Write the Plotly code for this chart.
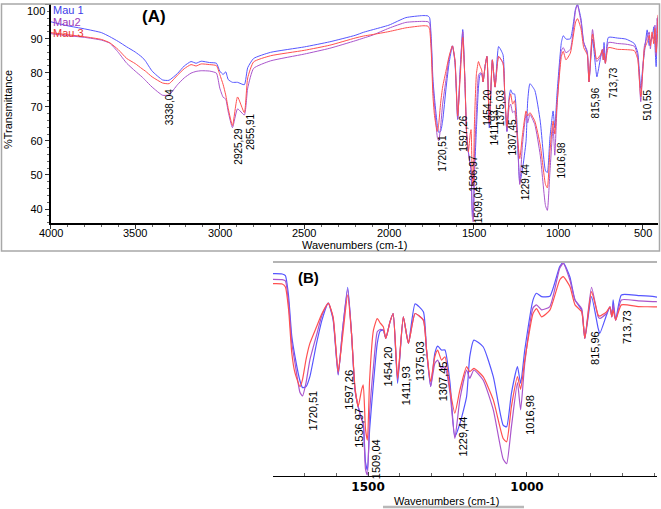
import plotly.graph_objects as go

W, H = 661, 509

# ---------------- data ----------------
wavenumber = [4000, 3900, 3800, 3700, 3650, 3600, 3550, 3500, 3460, 3440, 3400, 3338, 3300, 3250,
              3210, 3170, 3140, 3110, 3060, 3020, 3000, 2980, 2965, 2950, 2925, 2895, 2855, 2835,
              2800, 2700, 2500, 2350, 2200, 2150, 2100, 2000, 1900, 1800, 1770, 1760, 1750, 1740,
              1730, 1714, 1706, 1695, 1683, 1662, 1645, 1625, 1610, 1594, 1580, 1564, 1552, 1541,
              1531, 1520, 1515, 1508, 1502, 1495, 1483, 1471, 1462, 1452, 1444, 1431, 1421, 1407,
              1389, 1373, 1352, 1326, 1316, 1303, 1290, 1281, 1269, 1258, 1242, 1227, 1211, 1190,
              1180, 1167, 1138, 1106, 1075, 1064, 1049, 1030, 1020, 1007, 981, 970, 954, 928,
              897, 886, 865, 849, 828, 818, 797, 776, 771, 750, 739, 733, 729, 721,
              703, 650, 600, 550, 530, 512, 500, 490, 474, 462, 455, 445, 435, 428,
              421, 415, 410]

mau1 = [95.0, 93.8, 92.9, 91.8, 90.6, 89.2, 87.6, 86.1, 84.6, 83.5, 80.5, 77.9, 77.8, 79.8,
        82.0, 83.3, 82.8, 83.4, 83.0, 82.8, 80.5, 79.5, 80.3, 78.0, 77.2, 77.2, 76.5, 81.5,
        84.2, 86.0, 87.6, 89.1, 91.0, 91.9, 92.6, 94.0, 96.2, 96.8, 96.7, 96.2, 90.0, 78.0,
        72.0, 64.5, 62.5, 62.8, 65.8, 75.8, 82.8, 87.9, 83.0, 66.3, 80.0, 92.7, 78.8, 61.8,
        56.8, 53.0, 51.7, 40.0, 37.7, 50.0, 63.8, 75.8, 79.5, 79.8, 77.3, 82.3, 84.8, 63.8,
        83.8, 75.8, 87.7, 85.3, 73.8, 62.8, 72.8, 75.0, 73.8, 73.8, 63.8, 47.7, 51.7, 59.8,
        71.8, 76.8, 74.8, 65.8, 51.2, 50.7, 60.8, 68.8, 63.8, 73.8, 88.9, 90.9, 89.9, 90.0,
        98.9, 100.1, 95.8, 88.9, 85.8, 77.3, 89.9, 80.3, 78.8, 84.3, 86.8, 83.8, 88.9, 82.8,
        90.4, 90.2, 89.9, 88.6, 86.0, 75.4, 81.8, 86.0, 92.6, 88.0, 89.6, 90.0, 93.5, 88.0,
        81.8, 92.0, 96.5]

mau2 = [91.5, 90.9, 90.4, 89.6, 88.7, 86.0, 82.8, 80.5, 78.8, 77.8, 75.8, 73.4, 73.5, 76.5,
        78.5, 79.9, 80.4, 80.6, 80.5, 79.9, 75.5, 72.8, 72.3, 68.5, 63.9, 69.4, 67.6, 75.5,
        81.3, 83.5, 85.5, 87.2, 89.4, 90.2, 91.0, 93.1, 94.8, 95.1, 95.0, 94.6, 88.0, 76.0,
        70.0, 61.0, 60.0, 64.0, 70.8, 78.3, 84.3, 87.9, 83.5, 66.5, 80.0, 92.1, 78.8, 61.8,
        56.8, 53.0, 51.7, 38.0, 36.2, 55.0, 68.8, 79.3, 80.0, 79.8, 77.3, 82.3, 84.8, 64.8,
        83.8, 75.8, 84.8, 82.8, 73.8, 62.8, 69.8, 70.8, 68.3, 68.8, 60.8, 47.2, 59.0, 67.8,
        65.3, 67.8, 64.8, 55.8, 41.0, 39.6, 50.7, 64.0, 55.8, 69.8, 86.5, 87.4, 85.9, 86.9,
        98.4, 99.9, 94.9, 88.9, 86.3, 77.3, 92.7, 83.8, 83.3, 84.8, 86.8, 83.8, 87.4, 82.8,
        88.9, 88.6, 88.4, 87.8, 85.0, 71.5, 81.0, 88.0, 90.5, 92.0, 87.0, 91.0, 90.0, 94.0,
        85.0, 96.0, 93.0]

mau3 = [91.8, 91.2, 90.6, 89.8, 88.8, 86.8, 84.2, 82.7, 81.2, 80.5, 78.8, 77.0, 76.8, 79.3,
        81.2, 82.4, 82.0, 82.6, 82.4, 82.1, 79.5, 76.5, 73.5, 69.5, 64.5, 72.9, 68.3, 78.5,
        83.2, 85.0, 86.6, 88.1, 90.2, 90.8, 91.2, 92.1, 93.2, 93.8, 93.7, 92.8, 86.0, 73.0,
        67.0, 62.8, 65.0, 71.0, 75.8, 80.8, 84.8, 87.9, 83.8, 67.3, 78.0, 90.4, 78.8, 62.5,
        56.8, 62.0, 63.3, 50.0, 46.7, 65.0, 79.8, 83.3, 82.0, 80.8, 77.3, 82.3, 84.8, 65.3,
        83.8, 75.8, 84.8, 82.8, 73.8, 64.3, 71.8, 73.8, 70.8, 71.8, 61.8, 54.8, 61.8, 68.8,
        67.3, 68.3, 65.8, 58.8, 47.2, 46.2, 56.8, 65.8, 62.0, 70.8, 84.8, 86.3, 83.8, 85.8,
        94.9, 95.9, 92.9, 87.4, 85.3, 77.3, 91.4, 84.3, 84.0, 85.3, 86.8, 83.8, 85.8, 82.8,
        87.4, 86.9, 86.8, 86.5, 84.0, 73.0, 80.5, 87.0, 89.0, 91.0, 88.0, 92.0, 88.5, 93.0,
        86.0, 89.0, 97.0]

series_names = ["Mau 1", "Mau2", "Mau 3"]
series_values = [mau1, mau2, mau3]

peak_labels_A = ["3338,04", "2925,29", "2855,91", "1720,51", "1597,26", "1536,97", "1509,04",
                 "1454,20", "1411,93", "1375,03", "1307,45", "1229,44", "1016,98", "815,96",
                 "713,73", "510,55"]
peak_labels_B = ["1720,51", "1597,26", "1536,97", "1509,04", "1454,20", "1411,93", "1375,03",
                 "1307,45", "1229,44", "1016,98", "815,96", "713,73"]

x_ticks_A = [4000, 3500, 3000, 2500, 2000, 1500, 1000, 500]
y_ticks_A = [40, 50, 60, 70, 80, 90, 100]
x_ticks_B = [1500, 1000]

# ---------------- styles / layout ----------------
line_colors = ["#5656ff", "#aa55cc", "#ff5050"]
text_colors = ["#3c3ce8", "#9b37b8", "#e83232"]

# top (in data units) of each rotated peak label
label_top_A = [75.6, 64.3, 68.5, 62.2, 68.0, 56.3, 47.0, 75.7, 69.5, 75.4, 66.9, 53.8, 60.2,
               76.1, 81.8, 75.4]
label_top_B = [61.8, 68.3, 56.8, 47.2, 75.3, 69.3, 76.8, 70.8, 54.2, 60.6, 79.8, 86.3]
label_shift_B = [14.7, 12.2, 2.0, 11.5, 5.7, 9.6, 12.2, 14.0, 9.2, 8.3, 9.3, 8.5]

FONT = "Liberation Sans, Arial, sans-serif"


def px(x):
    return x / W


def py(y):
    return 1 - y / H


fig = go.Figure()
for name, vals, col in zip(series_names, series_values, line_colors):
    fig.add_trace(go.Scatter(x=wavenumber, y=vals, mode="lines", name=name,
                             line=dict(color=col, width=1, shape="spline", smoothing=0.5),
                             xaxis="x", yaxis="y", hoverinfo="skip"))
for name, vals, col in zip(series_names, series_values, line_colors):
    fig.add_trace(go.Scatter(x=wavenumber, y=vals, mode="lines", name=name,
                             line=dict(color=col, width=1.2, shape="spline", smoothing=0.5),
                             xaxis="x2", yaxis="y2", hoverinfo="skip", showlegend=False))


def paper_text(x, y, text, size=11, color="black", xanchor="center", angle=0,
               family=FONT):
    return dict(x=px(x), y=py(y), xref="paper", yref="paper", text=text, showarrow=False,
                xanchor=xanchor, yanchor="middle", textangle=angle, borderpad=0,
                font=dict(family=family, size=size, color=color))


annotations = []
# peak labels, panel A
for lab, top in zip(peak_labels_A, label_top_A):
    annotations.append(dict(x=float(lab.replace(",", ".")), y=top, xref="x", yref="y",
                            text=lab, textangle=-90, showarrow=False, xanchor="left",
                            yanchor="top", font=dict(family=FONT, size=10, color="black"),
                            borderpad=0))
# peak labels, panel B
for lab, top, sh in zip(peak_labels_B, label_top_B, label_shift_B):
    annotations.append(dict(x=float(lab.replace(",", ".")), y=top, xref="x2", yref="y2",
                            text=lab, textangle=-90, showarrow=False, xanchor="center",
                            yanchor="top", xshift=sh,
                            font=dict(family=FONT, size=11, color="black"), borderpad=0))
# x tick labels of panel A (placed close under the axis, as in the reference)
for t in x_ticks_A:
    annotations.append(dict(x=t, y=py(232.5), xref="x", yref="paper", text=str(t),
                            showarrow=False, xanchor="center", yanchor="middle",
                            font=dict(family=FONT, size=11, color="black")))
# the "100" label sits slightly lower than its tick in the reference
annotations.append(paper_text(45.5, 11, str(y_ticks_A[-1]), xanchor="right"))
# pseudo-legend
for i, (name, col) in enumerate(zip(series_names, text_colors)):
    annotations.append(paper_text(52, 10.5 + 11.5 * i, name, size=11, color=col,
                                  xanchor="left"))
# panel tags and axis titles
annotations += [
    paper_text(154, 16.5, "<b>(A)</b>", size=17),
    paper_text(308, 277.5, "<b>(B)</b>", size=15),
    paper_text(8, 110, "%Transmittance", angle=-90),
    paper_text(354.5, 245, "Wavenumbers (cm-1)"),
    paper_text(447, 501, "Wavenumbers (cm-1)"),
]

shapes = [
    dict(type="rect", xref="paper", yref="paper", x0=px(1.5), x1=px(659.5), y0=py(251),
         y1=py(4), line=dict(color="#a8a8a8", width=1.5)),
    dict(type="line", xref="paper", yref="paper", x0=px(273), x1=px(657), y0=py(262),
         y1=py(262), line=dict(color="#b4b4b4", width=2)),
    dict(type="line", xref="paper", yref="paper", x0=px(383), x1=px(524), y0=py(507),
         y1=py(507), line=dict(color="#b8b8b8", width=2.5)),
]

y_ticktext_A = [str(v) for v in y_ticks_A[:-1]] + [""]

fig.update_layout(
    width=W, height=H, autosize=False, margin=dict(l=0, r=0, t=0, b=0, pad=0),
    paper_bgcolor="white", plot_bgcolor="rgba(0,0,0,0)", showlegend=False,
    font=dict(family=FONT, size=11, color="black"),
    xaxis=dict(domain=[px(50.6), px(658)], range=[4000, 410], tickmode="array",
               tickvals=x_ticks_A, showticklabels=False, ticks="outside", ticklen=4,
               tickcolor="#333", showline=True, linecolor="black", linewidth=1.5,
               showgrid=False, zeroline=False,
               minor=dict(dtick=100, tick0=0, ticks="outside", ticklen=2, tickcolor="#666"),
               anchor="y", automargin=False),
    yaxis=dict(domain=[py(223.3), py(4)], range=[35.8, 100.2], tickmode="array",
               tickvals=y_ticks_A, ticktext=y_ticktext_A, ticks="outside", ticklen=4,
               tickcolor="#333", showline=True, linecolor="black", linewidth=1.5,
               showgrid=False, zeroline=False,
               minor=dict(dtick=2, tick0=0, ticks="outside", ticklen=2, tickcolor="#666"),
               tickfont=dict(family=FONT, size=11), anchor="x", automargin=False,
               ticklabeloverflow="allow"),
    xaxis2=dict(domain=[px(273), px(657)], range=[1799, 591], tickmode="array",
                tickvals=x_ticks_B, ticks="inside", ticklen=4, tickcolor="#444",
                showline=True, linecolor="black", linewidth=1.2, showgrid=False, zeroline=False,
                minor=dict(dtick=100, tick0=0, ticks="inside", ticklen=3, tickcolor="#666"),
                tickfont=dict(family="DejaVu Sans, sans-serif", size=12, weight="bold"),
                anchor="y2", automargin=False, ticklabeloverflow="allow"),
    yaxis2=dict(domain=[py(475.7), py(262)], range=[36.0, 100.3], visible=False,
                anchor="x2", automargin=False),
    annotations=annotations, shapes=shapes,
)

fig.write_html("out.html", config={"displayModeBar": False},
               post_script="document.body.style.margin='0';document.body.style.padding='0';"
                           "document.body.style.overflow='hidden';")
